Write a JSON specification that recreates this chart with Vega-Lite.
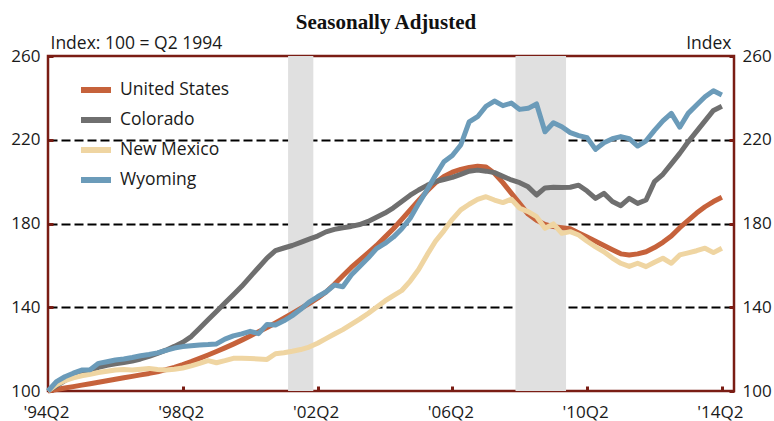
{
  "$schema": "https://vega.github.io/schema/vega-lite/v6.json",
  "width": 686,
  "height": 335,
  "autosize": {"type": "none"},
  "padding": {"left": 48, "top": 56, "right": 40, "bottom": 30},
  "background": "white",
  "title": {"text": "Seasonally Adjusted", "font": "Liberation Serif", "fontSize": 21, "fontWeight": "bold", "color": "#111111", "anchor": "middle", "offset": 1, "dx": -5},
  "config": {
    "view": {"stroke": "#7a1d14", "strokeWidth": 2.5},
    "axis": {"labelFont": "Open Sans", "labelFontSize": 17, "labelColor": "#1a1a1a", "titleFont": "Open Sans", "titleFontSize": 17.5, "titleFontWeight": "normal", "titleColor": "#1a1a1a", "domain": false, "tickColor": "#7a1d14", "tickWidth": 3},
    "legend": {"labelFont": "Open Sans", "labelFontSize": 17.5, "labelColor": "#1a1a1a"}
  },
  "datasets": {
    "hpi": [
      {"t":1994.25,"United States":100,"Colorado":100,"New Mexico":100,"Wyoming":100},
      {"t":1994.5,"United States":100.7,"Colorado":102.5,"New Mexico":103,"Wyoming":104.5},
      {"t":1994.75,"United States":101.4,"Colorado":105,"New Mexico":105,"Wyoming":106.8},
      {"t":1995,"United States":102.1,"Colorado":107,"New Mexico":106.3,"Wyoming":108.5},
      {"t":1995.25,"United States":102.8,"Colorado":108.5,"New Mexico":107.3,"Wyoming":110},
      {"t":1995.5,"United States":103.5,"Colorado":110,"New Mexico":108,"Wyoming":110.2},
      {"t":1995.75,"United States":104.2,"Colorado":111.3,"New Mexico":108.8,"Wyoming":113.2},
      {"t":1996,"United States":104.9,"Colorado":112.3,"New Mexico":109.4,"Wyoming":114},
      {"t":1996.25,"United States":105.6,"Colorado":113,"New Mexico":110,"Wyoming":114.8},
      {"t":1996.5,"United States":106.3,"Colorado":113.6,"New Mexico":110.3,"Wyoming":115.3},
      {"t":1996.75,"United States":107,"Colorado":114.3,"New Mexico":110,"Wyoming":116},
      {"t":1997,"United States":107.7,"Colorado":115.3,"New Mexico":110.4,"Wyoming":116.8},
      {"t":1997.25,"United States":108.4,"Colorado":116.5,"New Mexico":110.8,"Wyoming":117.4},
      {"t":1997.5,"United States":109.2,"Colorado":118,"New Mexico":110.3,"Wyoming":118.2},
      {"t":1997.75,"United States":110.2,"Colorado":119.5,"New Mexico":110,"Wyoming":119.4},
      {"t":1998,"United States":111.3,"Colorado":121.3,"New Mexico":110.4,"Wyoming":120.5},
      {"t":1998.25,"United States":112.6,"Colorado":123.3,"New Mexico":111,"Wyoming":121.2},
      {"t":1998.5,"United States":114,"Colorado":126,"New Mexico":112,"Wyoming":121.6},
      {"t":1998.75,"United States":115.6,"Colorado":130,"New Mexico":113.2,"Wyoming":122},
      {"t":1999,"United States":117.2,"Colorado":134,"New Mexico":114.5,"Wyoming":122.2},
      {"t":1999.25,"United States":118.9,"Colorado":138,"New Mexico":113.5,"Wyoming":122.5},
      {"t":1999.5,"United States":120.6,"Colorado":142,"New Mexico":114.5,"Wyoming":124.8},
      {"t":1999.75,"United States":122.4,"Colorado":146,"New Mexico":115.6,"Wyoming":126.3},
      {"t":2000,"United States":124.3,"Colorado":150,"New Mexico":115.6,"Wyoming":127.3},
      {"t":2000.25,"United States":126.3,"Colorado":154.5,"New Mexico":115.5,"Wyoming":128.5},
      {"t":2000.5,"United States":128.3,"Colorado":159,"New Mexico":115.3,"Wyoming":127.4},
      {"t":2000.75,"United States":130.3,"Colorado":163.5,"New Mexico":115.1,"Wyoming":131.8},
      {"t":2001,"United States":132.5,"Colorado":167,"New Mexico":117.8,"Wyoming":131.5},
      {"t":2001.25,"United States":134.8,"Colorado":168.3,"New Mexico":118.3,"Wyoming":133.5},
      {"t":2001.5,"United States":137.1,"Colorado":169.5,"New Mexico":119,"Wyoming":136},
      {"t":2001.75,"United States":139.4,"Colorado":171,"New Mexico":119.8,"Wyoming":139},
      {"t":2002,"United States":141.8,"Colorado":172.5,"New Mexico":121,"Wyoming":142.5},
      {"t":2002.25,"United States":144.3,"Colorado":174,"New Mexico":122.8,"Wyoming":145},
      {"t":2002.5,"United States":147.3,"Colorado":176,"New Mexico":125,"Wyoming":147.3},
      {"t":2002.75,"United States":151,"Colorado":177.2,"New Mexico":127.2,"Wyoming":150.6},
      {"t":2003,"United States":155,"Colorado":178,"New Mexico":129.3,"Wyoming":149.8},
      {"t":2003.25,"United States":159,"Colorado":178.6,"New Mexico":131.8,"Wyoming":155.4},
      {"t":2003.5,"United States":162.5,"Colorado":179.5,"New Mexico":134.3,"Wyoming":159.5},
      {"t":2003.75,"United States":166,"Colorado":181,"New Mexico":137,"Wyoming":163.5},
      {"t":2004,"United States":169.5,"Colorado":183,"New Mexico":140,"Wyoming":168},
      {"t":2004.25,"United States":173.5,"Colorado":185,"New Mexico":143,"Wyoming":170.5},
      {"t":2004.5,"United States":177.5,"Colorado":187.5,"New Mexico":145.5,"Wyoming":173.5},
      {"t":2004.75,"United States":182,"Colorado":190.5,"New Mexico":148,"Wyoming":177.5},
      {"t":2005,"United States":186.5,"Colorado":193.5,"New Mexico":152.5,"Wyoming":182.5},
      {"t":2005.25,"United States":191,"Colorado":196,"New Mexico":158,"Wyoming":189.5},
      {"t":2005.5,"United States":195.5,"Colorado":198.2,"New Mexico":165,"Wyoming":196},
      {"t":2005.75,"United States":199.5,"Colorado":200,"New Mexico":171.5,"Wyoming":203},
      {"t":2006,"United States":202.5,"Colorado":201,"New Mexico":176.5,"Wyoming":209.5},
      {"t":2006.25,"United States":204.5,"Colorado":202,"New Mexico":182,"Wyoming":212.5},
      {"t":2006.5,"United States":205.8,"Colorado":203.5,"New Mexico":186.5,"Wyoming":217.5},
      {"t":2006.75,"United States":206.8,"Colorado":205,"New Mexico":189.2,"Wyoming":228.5},
      {"t":2007,"United States":207.3,"Colorado":205.5,"New Mexico":191.5,"Wyoming":231},
      {"t":2007.25,"United States":207,"Colorado":205,"New Mexico":192.8,"Wyoming":236},
      {"t":2007.5,"United States":204,"Colorado":204.3,"New Mexico":191.2,"Wyoming":238.5},
      {"t":2007.75,"United States":199.5,"Colorado":202.5,"New Mexico":190,"Wyoming":236.3},
      {"t":2008,"United States":194.5,"Colorado":200.8,"New Mexico":191.6,"Wyoming":237.5},
      {"t":2008.25,"United States":189.5,"Colorado":199.5,"New Mexico":187.3,"Wyoming":234.5},
      {"t":2008.5,"United States":184.5,"Colorado":197.5,"New Mexico":185.7,"Wyoming":235},
      {"t":2008.75,"United States":181.5,"Colorado":193.6,"New Mexico":183.3,"Wyoming":237.1},
      {"t":2009,"United States":179.5,"Colorado":197,"New Mexico":177.7,"Wyoming":223.8},
      {"t":2009.25,"United States":178.5,"Colorado":197.3,"New Mexico":179.8,"Wyoming":228.1},
      {"t":2009.5,"United States":178,"Colorado":197.2,"New Mexico":175.3,"Wyoming":226.2},
      {"t":2009.75,"United States":177.5,"Colorado":197.3,"New Mexico":176.1,"Wyoming":223.4},
      {"t":2010,"United States":175.5,"Colorado":198.3,"New Mexico":174.5,"Wyoming":222},
      {"t":2010.25,"United States":173.5,"Colorado":195.5,"New Mexico":171.5,"Wyoming":221},
      {"t":2010.5,"United States":171.5,"Colorado":192,"New Mexico":168.8,"Wyoming":215.4},
      {"t":2010.75,"United States":169.5,"Colorado":194.4,"New Mexico":166.5,"Wyoming":218.6},
      {"t":2011,"United States":167.5,"Colorado":190.5,"New Mexico":163.5,"Wyoming":220.5},
      {"t":2011.25,"United States":165.5,"Colorado":188.5,"New Mexico":161,"Wyoming":221.5},
      {"t":2011.5,"United States":165,"Colorado":192,"New Mexico":159.5,"Wyoming":220.5},
      {"t":2011.75,"United States":165.5,"Colorado":189.6,"New Mexico":161,"Wyoming":217},
      {"t":2012,"United States":166.5,"Colorado":191.2,"New Mexico":159.4,"Wyoming":219.5},
      {"t":2012.25,"United States":168.5,"Colorado":200,"New Mexico":161.5,"Wyoming":224.5},
      {"t":2012.5,"United States":171,"Colorado":203.5,"New Mexico":163.4,"Wyoming":229},
      {"t":2012.75,"United States":174,"Colorado":208.5,"New Mexico":161,"Wyoming":232.6},
      {"t":2013,"United States":178,"Colorado":213.5,"New Mexico":165,"Wyoming":226},
      {"t":2013.25,"United States":181.5,"Colorado":219,"New Mexico":166,"Wyoming":232.6},
      {"t":2013.5,"United States":185,"Colorado":224,"New Mexico":167,"Wyoming":236.6},
      {"t":2013.75,"United States":188,"Colorado":229,"New Mexico":168.2,"Wyoming":240.5},
      {"t":2014,"United States":190.5,"Colorado":234,"New Mexico":166.1,"Wyoming":243.4},
      {"t":2014.25,"United States":192.5,"Colorado":236,"New Mexico":168.2,"Wyoming":241.4}
    ],
    "recessions": [
      {"start": 2001.375, "end": 2002.125},
      {"start": 2008.125, "end": 2009.625}
    ]
  },
  "layer": [
    {
      "data": {"name": "recessions"},
      "mark": {"type": "rect", "color": "#e0e0e0"},
      "encoding": {
        "x": {
          "field": "start", "type": "quantitative",
          "scale": {"domain": [1994.25, 2014.61], "nice": false, "zero": false},
          "axis": {
            "title": null,
            "values": [1994.25, 1998.25, 2002.25, 2006.25, 2010.25, 2014.25],
            "labelExpr": "\"'\" + slice(toString(floor(datum.value)), 2) + 'Q2'",
            "tickSize": -5,
            "labelPadding": 18,
            "labelFlush": false,
            "labelOffset": -2,
            "grid": false
          }
        },
        "x2": {"field": "end"}
      }
    },
    {
      "data": {"name": "hpi"},
      "transform": [{"fold": ["United States", "Colorado", "New Mexico", "Wyoming"], "as": ["series", "index"]}],
      "mark": {"type": "line", "strokeWidth": 5, "strokeJoin": "round", "strokeCap": "butt"},
      "encoding": {
        "x": {"field": "t", "type": "quantitative"},
        "y": {
          "field": "index", "type": "quantitative",
          "scale": {"domain": [100, 260], "nice": false, "zero": false},
          "axis": {
            "orient": "left",
            "values": [100, 140, 180, 220, 260],
            "title": "Index: 100 = Q2 1994",
            "titleAngle": 0, "titleAlign": "left", "titleBaseline": "alphabetic",
            "titleX": 2, "titleY": -8,
            "tickSize": -5, "labelPadding": 13,
            "grid": true, "gridColor": "#000000", "gridWidth": 2, "gridDash": [9, 4],
            "gridOpacity": {"condition": {"test": "datum.value == 100 || datum.value == 260", "value": 0}, "value": 1}
          }
        },
        "color": {
          "field": "series", "type": "nominal",
          "scale": {"domain": ["United States", "Colorado", "New Mexico", "Wyoming"], "range": ["#c6623b", "#6f6f6f", "#efd5a2", "#6b9bb9"]},
          "legend": {
            "title": null, "orient": "none", "legendX": 30, "legendY": 16,
            "symbolType": "stroke", "symbolSize": 900, "symbolStrokeWidth": 6,
            "rowPadding": 0, "labelOffset": 6
          }
        },
        "order": {"field": "t", "type": "quantitative"}
      }
    },
    {
      "data": {"name": "hpi"},
      "transform": [{"fold": ["United States"], "as": ["series", "index"]}],
      "mark": {"type": "line", "opacity": 0},
      "encoding": {
        "x": {"field": "t", "type": "quantitative"},
        "y": {
          "field": "index", "type": "quantitative",
          "axis": {
            "orient": "right",
            "values": [100, 140, 180, 220, 260],
            "title": "Index",
            "titleAngle": 0, "titleAlign": "right", "titleBaseline": "alphabetic",
            "titleX": -3, "titleY": -8,
            "tickSize": -5, "labelPadding": 13,
            "grid": false
          }
        }
      }
    }
  ],
  "resolve": {"axis": {"y": "independent"}}
}
